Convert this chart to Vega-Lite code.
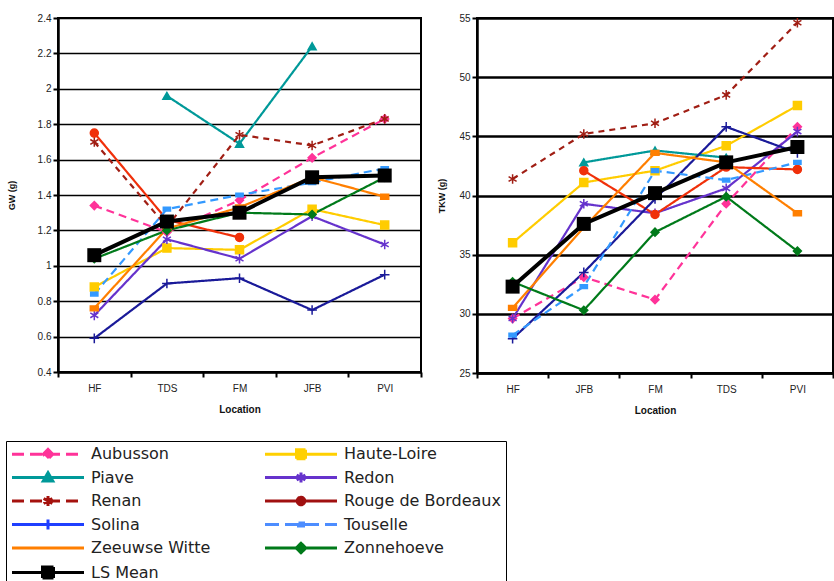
{
  "$schema": "https://vega.github.io/schema/vega-lite/v6.json",
  "background": "white",
  "padding": {"left": 5, "top": 12, "right": 0, "bottom": 0},
  "datasets": {
    "gw": [
      {"loc": "HF", "series": "Aubusson", "v": 1.34},
      {"loc": "TDS", "series": "Aubusson", "v": 1.19},
      {"loc": "FM", "series": "Aubusson", "v": 1.37},
      {"loc": "JFB", "series": "Aubusson", "v": 1.61},
      {"loc": "PVI", "series": "Aubusson", "v": 1.83},
      {"loc": "HF", "series": "Haute-Loire", "v": 0.88},
      {"loc": "TDS", "series": "Haute-Loire", "v": 1.10},
      {"loc": "FM", "series": "Haute-Loire", "v": 1.09},
      {"loc": "JFB", "series": "Haute-Loire", "v": 1.32},
      {"loc": "PVI", "series": "Haute-Loire", "v": 1.23},
      {"loc": "TDS", "series": "Piave", "v": 1.96},
      {"loc": "FM", "series": "Piave", "v": 1.69},
      {"loc": "JFB", "series": "Piave", "v": 2.24},
      {"loc": "HF", "series": "Redon", "v": 0.72},
      {"loc": "TDS", "series": "Redon", "v": 1.15},
      {"loc": "FM", "series": "Redon", "v": 1.04},
      {"loc": "JFB", "series": "Redon", "v": 1.28},
      {"loc": "PVI", "series": "Redon", "v": 1.12},
      {"loc": "HF", "series": "Renan", "v": 1.70},
      {"loc": "TDS", "series": "Renan", "v": 1.22},
      {"loc": "FM", "series": "Renan", "v": 1.74},
      {"loc": "JFB", "series": "Renan", "v": 1.68},
      {"loc": "PVI", "series": "Renan", "v": 1.83},
      {"loc": "HF", "series": "Rouge de Bordeaux", "v": 1.75},
      {"loc": "TDS", "series": "Rouge de Bordeaux", "v": 1.26},
      {"loc": "FM", "series": "Rouge de Bordeaux", "v": 1.16},
      {"loc": "HF", "series": "Solina", "v": 0.59},
      {"loc": "TDS", "series": "Solina", "v": 0.90},
      {"loc": "FM", "series": "Solina", "v": 0.93},
      {"loc": "JFB", "series": "Solina", "v": 0.75},
      {"loc": "PVI", "series": "Solina", "v": 0.95},
      {"loc": "HF", "series": "Touselle", "v": 0.84},
      {"loc": "TDS", "series": "Touselle", "v": 1.32},
      {"loc": "FM", "series": "Touselle", "v": 1.40},
      {"loc": "JFB", "series": "Touselle", "v": 1.47},
      {"loc": "PVI", "series": "Touselle", "v": 1.55},
      {"loc": "HF", "series": "Zeeuwse Witte", "v": 0.76},
      {"loc": "TDS", "series": "Zeeuwse Witte", "v": 1.21},
      {"loc": "FM", "series": "Zeeuwse Witte", "v": 1.33},
      {"loc": "JFB", "series": "Zeeuwse Witte", "v": 1.50},
      {"loc": "PVI", "series": "Zeeuwse Witte", "v": 1.39},
      {"loc": "HF", "series": "Zonnehoeve", "v": 1.04},
      {"loc": "TDS", "series": "Zonnehoeve", "v": 1.20},
      {"loc": "FM", "series": "Zonnehoeve", "v": 1.30},
      {"loc": "JFB", "series": "Zonnehoeve", "v": 1.29},
      {"loc": "PVI", "series": "Zonnehoeve", "v": 1.50},
      {"loc": "HF", "series": "LS Mean", "v": 1.06},
      {"loc": "TDS", "series": "LS Mean", "v": 1.25},
      {"loc": "FM", "series": "LS Mean", "v": 1.30},
      {"loc": "JFB", "series": "LS Mean", "v": 1.50},
      {"loc": "PVI", "series": "LS Mean", "v": 1.51}
    ],
    "tkw": [
      {"loc": "HF", "series": "Aubusson", "v": 29.6},
      {"loc": "JFB", "series": "Aubusson", "v": 33.1},
      {"loc": "FM", "series": "Aubusson", "v": 31.2},
      {"loc": "TDS", "series": "Aubusson", "v": 39.3},
      {"loc": "PVI", "series": "Aubusson", "v": 45.8},
      {"loc": "HF", "series": "Haute-Loire", "v": 36.0},
      {"loc": "JFB", "series": "Haute-Loire", "v": 41.1},
      {"loc": "FM", "series": "Haute-Loire", "v": 42.1},
      {"loc": "TDS", "series": "Haute-Loire", "v": 44.2},
      {"loc": "PVI", "series": "Haute-Loire", "v": 47.6},
      {"loc": "JFB", "series": "Piave", "v": 42.8},
      {"loc": "FM", "series": "Piave", "v": 43.8},
      {"loc": "TDS", "series": "Piave", "v": 43.2},
      {"loc": "HF", "series": "Redon", "v": 29.6},
      {"loc": "JFB", "series": "Redon", "v": 39.3},
      {"loc": "FM", "series": "Redon", "v": 38.5},
      {"loc": "TDS", "series": "Redon", "v": 40.6},
      {"loc": "PVI", "series": "Redon", "v": 45.4},
      {"loc": "HF", "series": "Renan", "v": 41.4},
      {"loc": "JFB", "series": "Renan", "v": 45.2},
      {"loc": "FM", "series": "Renan", "v": 46.1},
      {"loc": "TDS", "series": "Renan", "v": 48.5},
      {"loc": "PVI", "series": "Renan", "v": 54.6},
      {"loc": "JFB", "series": "Rouge de Bordeaux", "v": 42.1},
      {"loc": "FM", "series": "Rouge de Bordeaux", "v": 38.4},
      {"loc": "TDS", "series": "Rouge de Bordeaux", "v": 42.4},
      {"loc": "PVI", "series": "Rouge de Bordeaux", "v": 42.2},
      {"loc": "HF", "series": "Solina", "v": 27.9},
      {"loc": "JFB", "series": "Solina", "v": 33.5},
      {"loc": "FM", "series": "Solina", "v": 39.7},
      {"loc": "TDS", "series": "Solina", "v": 45.8},
      {"loc": "PVI", "series": "Solina", "v": 43.6},
      {"loc": "HF", "series": "Touselle", "v": 28.2},
      {"loc": "JFB", "series": "Touselle", "v": 32.3},
      {"loc": "FM", "series": "Touselle", "v": 42.1},
      {"loc": "TDS", "series": "Touselle", "v": 41.3},
      {"loc": "PVI", "series": "Touselle", "v": 42.8},
      {"loc": "HF", "series": "Zeeuwse Witte", "v": 30.5},
      {"loc": "JFB", "series": "Zeeuwse Witte", "v": 37.3},
      {"loc": "FM", "series": "Zeeuwse Witte", "v": 43.6},
      {"loc": "TDS", "series": "Zeeuwse Witte", "v": 42.8},
      {"loc": "PVI", "series": "Zeeuwse Witte", "v": 38.5},
      {"loc": "HF", "series": "Zonnehoeve", "v": 32.7},
      {"loc": "JFB", "series": "Zonnehoeve", "v": 30.3},
      {"loc": "FM", "series": "Zonnehoeve", "v": 36.9},
      {"loc": "TDS", "series": "Zonnehoeve", "v": 39.9},
      {"loc": "PVI", "series": "Zonnehoeve", "v": 35.3},
      {"loc": "HF", "series": "LS Mean", "v": 32.3},
      {"loc": "JFB", "series": "LS Mean", "v": 37.6},
      {"loc": "FM", "series": "LS Mean", "v": 40.2},
      {"loc": "TDS", "series": "LS Mean", "v": 42.8},
      {"loc": "PVI", "series": "LS Mean", "v": 44.1}
    ]
  },
  "config": {
    "font": "Liberation Sans",
    "axis": {
      "domainColor": "black", "domainWidth": 2.5,
      "tickColor": "black", "tickWidth": 2, "tickSize": 5,
      "labelFont": "Liberation Sans", "labelFontSize": 10, "labelColor": "#222",
      "titleFont": "Liberation Sans", "titleFontSize": 10, "titleFontWeight": "bold", "titleColor": "#111",
      "gridColor": "black"
    },
    "legend": {
      "title": null, "padding": 5, "strokeColor": "black", "direction": "horizontal", "columns": 2,
      "symbolSize": 100, "symbolStrokeWidth": 3, "symbolOffset": 29,
      "labelFont": "DejaVu Sans", "labelFontSize": 16, "labelColor": "#222", "labelOffset": 35,
      "rowPadding": 1.5, "columnPadding": 48, "labelLimit": 300
    }
  },
  "spacing": 24,
  "resolve": {"scale": {"color": "independent", "fill": "independent", "stroke": "independent", "shape": "independent", "strokeDash": "independent"}},
  "vconcat": [
    {
      "spacing": 13,
      "hconcat": [
        {
          "width": 363, "height": 354,
          "data": {"name": "gw"},
          "view": {"stroke": "black", "strokeWidth": 2},
          "encoding": {
            "x": {"field": "loc", "type": "nominal", "sort": ["HF", "TDS", "FM", "JFB", "PVI"],
              "scale": {"type": "band", "paddingInner": 0, "paddingOuter": 0},
              "axis": {"title": "Location", "tickBand": "extent", "labelAngle": 0, "labelPadding": 6, "titlePadding": 11, "grid": false}},
            "y": {"field": "v", "type": "quantitative",
              "scale": {"domain": [0.4, 2.4], "nice": false, "zero": false},
              "axis": {"title": "GW (g)", "titleFontSize": 9, "values": [0.4, 0.6, 0.8, 1, 1.2, 1.4, 1.6, 1.8, 2, 2.2, 2.4], "format": "~g", "grid": true, "gridWidth": 1.5, "labelPadding": 2, "titlePadding": 21}}
          },
          "layer": [
            {
              "transform": [{"filter": "datum.series !== 'LS Mean'"}],
              "mark": {"type": "line", "strokeWidth": 2.2},
              "encoding": {
                "color": {"field": "series", "type": "nominal", "legend": null,
                  "scale": {"domain": ["Aubusson", "Haute-Loire", "Piave", "Redon", "Renan", "Rouge de Bordeaux", "Solina", "Touselle", "Zeeuwse Witte", "Zonnehoeve"],
                    "range": ["#FF3399", "#FFCC00", "#009999", "#6633CC", "#A01E14", "#F0300A", "#1A1A99", "#3399FF", "#FF7F00", "#007A1A"]}},
                "strokeDash": {"field": "series", "type": "nominal", "legend": null,
                  "scale": {"domain": ["Aubusson", "Haute-Loire", "Piave", "Redon", "Renan", "Rouge de Bordeaux", "Solina", "Touselle", "Zeeuwse Witte", "Zonnehoeve"],
                    "range": [[8, 5], [1, 0], [1, 0], [1, 0], [6, 5], [1, 0], [1, 0], [8, 5], [1, 0], [1, 0]]}}
              }
            },
            {
              "transform": [{"filter": "datum.series === 'LS Mean'"}],
              "mark": {"type": "line", "strokeWidth": 4, "color": "black"},
              "encoding": {}
            },
            {
              "transform": [{"filter": "datum.series !== 'LS Mean'"}],
              "mark": {"type": "point", "filled": true, "size": 64, "strokeWidth": 1.5, "opacity": 1},
              "encoding": {
                "color": {"field": "series", "type": "nominal", "legend": null},
                "stroke": {"field": "series", "type": "nominal", "legend": null,
                  "scale": {"domain": ["Aubusson", "Haute-Loire", "Piave", "Redon", "Renan", "Rouge de Bordeaux", "Solina", "Touselle", "Zeeuwse Witte", "Zonnehoeve"],
                    "range": ["#FF3399", "#FFCC00", "#009999", "#6633CC", "#A01E14", "#F0300A", "#1A1A99", "#3399FF", "#FF7F00", "#007A1A"]}},
                "shape": {"field": "series", "type": "nominal", "legend": null,
                  "scale": {"domain": ["Aubusson", "Haute-Loire", "Piave", "Redon", "Renan", "Rouge de Bordeaux", "Solina", "Touselle", "Zeeuwse Witte", "Zonnehoeve"],
                    "range": ["diamond", "square", "triangle-up", "M0,-1.2V1.2M-1,-0.6L1,0.6M-1,0.6L1,-0.6", "M0,-1.2V1.2M-1,-0.6L1,0.6M-1,0.6L1,-0.6", "circle", "M-1.2,0H1.2M0,-1.2V1.2", "M-0.9,-0.45H0.9V0.45H-0.9Z", "M-1,-0.6H1V0.6H-1Z", "diamond"]}}
              }
            },
            {
              "transform": [{"filter": "datum.series === 'LS Mean'"}],
              "mark": {"type": "point", "filled": true, "shape": "square", "size": 196, "color": "black", "opacity": 1},
              "encoding": {}
            }
          ]
        },
        {
          "width": 356, "height": 355,
          "data": {"name": "tkw"},
          "view": {"stroke": "black", "strokeWidth": 2},
          "encoding": {
            "x": {"field": "loc", "type": "nominal", "sort": ["HF", "JFB", "FM", "TDS", "PVI"],
              "scale": {"type": "band", "paddingInner": 0, "paddingOuter": 0},
              "axis": {"title": "Location", "tickBand": "extent", "labelAngle": 0, "labelPadding": 6, "titlePadding": 11, "grid": false}},
            "y": {"field": "v", "type": "quantitative",
              "scale": {"domain": [25, 55], "nice": false, "zero": false},
              "axis": {"title": "TKW (g)", "titleFontSize": 9, "values": [25, 30, 35, 40, 45, 50, 55], "grid": true, "gridWidth": 2.5, "labelPadding": 2, "titlePadding": 12}}
          },
          "layer": [
            {
              "transform": [{"filter": "datum.series !== 'LS Mean'"}],
              "mark": {"type": "line", "strokeWidth": 2.2},
              "encoding": {
                "color": {"field": "series", "type": "nominal", "legend": null},
                "strokeDash": {"field": "series", "type": "nominal", "legend": null}
              }
            },
            {
              "transform": [{"filter": "datum.series === 'LS Mean'"}],
              "mark": {"type": "line", "strokeWidth": 4, "color": "black"},
              "encoding": {}
            },
            {
              "transform": [{"filter": "datum.series !== 'LS Mean'"}],
              "mark": {"type": "point", "filled": true, "size": 64, "strokeWidth": 1.5, "opacity": 1},
              "encoding": {
                "color": {"field": "series", "type": "nominal", "legend": null},
                "stroke": {"field": "series", "type": "nominal", "legend": null},
                "shape": {"field": "series", "type": "nominal", "legend": null}
              }
            },
            {
              "transform": [{"filter": "datum.series === 'LS Mean'"}],
              "mark": {"type": "point", "filled": true, "shape": "square", "size": 196, "color": "black", "opacity": 1},
              "encoding": {}
            }
          ]
        }
      ]
    },
    {
      "width": 1, "height": 1,
      "view": {"stroke": null},
      "data": {"name": "gw"},
      "transform": [{"filter": "false"}],
      "mark": {"type": "point", "filled": true, "size": 100, "strokeWidth": 3, "opacity": 1},
      "encoding": {
        "fill": {"field": "series", "type": "nominal",
          "scale": {"domain": ["Aubusson", "Haute-Loire", "Piave", "Redon", "Renan", "Rouge de Bordeaux", "Solina", "Touselle", "Zeeuwse Witte", "Zonnehoeve", "LS Mean"],
            "range": ["#FF3399", "#FFD000", "#009999", "#6633CC", "#A5120E", "#A01010", "#1F3FFF", "#4D8DFF", "#FF7F00", "#007A1A", "#000000"]},
          "legend": {"orient": "none", "legendX": -52, "legendY": 0}},
        "stroke": {"field": "series", "type": "nominal",
          "scale": {"domain": ["Aubusson", "Haute-Loire", "Piave", "Redon", "Renan", "Rouge de Bordeaux", "Solina", "Touselle", "Zeeuwse Witte", "Zonnehoeve", "LS Mean"],
            "range": ["#FF3399", "#FFD000", "#009999", "#6633CC", "#A5120E", "#A01010", "#1F3FFF", "#4D8DFF", "#FF7F00", "#007A1A", "#000000"]},
          "legend": {"orient": "none", "legendX": -52, "legendY": 0}},
        "shape": {"field": "series", "type": "nominal",
          "scale": {"domain": ["Aubusson", "Haute-Loire", "Piave", "Redon", "Renan", "Rouge de Bordeaux", "Solina", "Touselle", "Zeeuwse Witte", "Zonnehoeve", "LS Mean"],
            "range": [
              "M-7.2,0H7.2M0,-0.95L0.95,0L0,0.95L-0.95,0Z",
              "M-7.2,0H7.2M-0.9,-0.9H0.9V0.9H-0.9Z",
              "M-7.2,0H7.2M0,-0.95L0.95,0.7H-0.95Z",
              "M-7.2,0H7.2M0,-1V1M-0.87,-0.5L0.87,0.5M-0.87,0.5L0.87,-0.5",
              "M-7.2,0H7.2M0,-1V1M-0.87,-0.5L0.87,0.5M-0.87,0.5L0.87,-0.5",
              "M-7.2,0H7.2M-0.75,0A0.75,0.75,0,1,0,0.75,0A0.75,0.75,0,1,0,-0.75,0Z",
              "M-7.2,0H7.2M0,-1V1",
              "M-7.2,0H7.2M-0.5,-0.3H0.5V0.3H-0.5Z",
              "M-7.2,0H7.2",
              "M-7.2,0H7.2M0,-0.95L0.95,0L0,0.95L-0.95,0Z",
              "M-7.2,0H7.2M-1.1,-1.1H1.1V1.1H-1.1Z"
            ]},
          "legend": {"orient": "none", "legendX": -52, "legendY": 0}},
        "strokeDash": {"field": "series", "type": "nominal",
          "scale": {"domain": ["Aubusson", "Haute-Loire", "Piave", "Redon", "Renan", "Rouge de Bordeaux", "Solina", "Touselle", "Zeeuwse Witte", "Zonnehoeve", "LS Mean"],
            "range": [[12, 6], [1, 0], [1, 0], [1, 0], [12, 6], [1, 0], [1, 0], [14, 6], [1, 0], [1, 0], [1, 0]]},
          "legend": {"orient": "none", "legendX": -52, "legendY": 0}}
      }
    }
  ]
}
